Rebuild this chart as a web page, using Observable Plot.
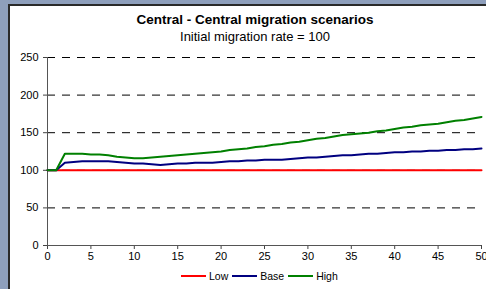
<!DOCTYPE html>
<html><head><meta charset="utf-8">
<script src="https://cdn.jsdelivr.net/npm/d3@7"></script>
<script src="https://cdn.jsdelivr.net/npm/@observablehq/plot@0.6"></script>
<style>
html,body{margin:0;padding:0;width:486px;height:289px;overflow:hidden;background:#8e9fbc;font-family:"Liberation Sans",Arial,sans-serif;}
#panel{position:absolute;left:8px;top:4px;width:600px;height:400px;background:#fff;border-top:2px solid #2a2a2a;border-left:2px solid #2a2a2a;}
#title{position:absolute;left:0;width:510px;top:12px;text-align:center;font-weight:bold;font-size:13.5px;color:#000;}
#subtitle{position:absolute;left:0;width:510px;top:29px;text-align:center;font-size:13px;color:#000;}
#chart{position:absolute;left:0;top:0;}
#legend{position:absolute;left:181px;top:270px;font-size:10.5px;color:#000;display:flex;align-items:center;white-space:nowrap;}
#legend .sw{display:inline-block;width:25px;height:2px;margin-right:3px;}
#legend .it{display:flex;align-items:center;margin-right:4px;}
</style></head>
<body>
<div id="panel"></div>
<div id="title">Central - Central migration scenarios</div>
<div id="subtitle">Initial migration rate = 100</div>
<div id="chart"></div>
<div id="legend"></div>
<script>
const years = d3.range(0, 51);
const seriesNames = ["Low", "Base", "High"];
const seriesColors = ["#ff0000", "#000080", "#008000"];
const low = years.map(() => 100);
const base = [100,100,110,111,112,112,112,112,111,110,109,109,108,107,108,109,109,110,110,110,111,112,112,113,113,114,114,114,115,116,117,117,118,119,120,120,121,122,122,123,124,124,125,125,126,126,127,127,128,128,129];
const high = [100,100,122,122,122,121,121,120,118,117,116,116,117,118,119,120,121,122,123,124,125,127,128,129,131,132,134,135,137,138,140,142,143,145,147,148,149,150,152,153,155,157,158,160,161,162,164,166,167,169,171];
const xTicks = d3.range(0, 51, 5);
const yTicks = [0, 50, 100, 150, 200, 250];
const gridValues = [50, 100, 150, 200, 250];

const values = [low, base, high];
const rows = [];
seriesNames.forEach((s, i) => years.forEach((y, j) => rows.push({series: s, year: y, value: values[i][j]})));

const chart = Plot.plot({
  width: 486,
  height: 262,
  marginLeft: 47,
  marginRight: 5,
  marginTop: 57,
  marginBottom: 17,
  style: {background: "transparent", fontFamily: "'Liberation Sans', Arial, sans-serif", fontSize: "11px", color: "#000"},
  x: {domain: [0, 50], label: null},
  y: {domain: [0, 250], label: null},
  color: {domain: seriesNames, range: seriesColors},
  marks: [
    Plot.ruleY(gridValues, {stroke: "#000", strokeWidth: 1, strokeDasharray: "8,7"}),
    Plot.axisX({ticks: xTicks, tickSize: 4, tickPadding: 3, stroke: "#444", fill: "#000", fontSize: 11, label: null}),
    Plot.axisY({ticks: yTicks, tickSize: 4, tickPadding: 5, stroke: "#444", fill: "#000", fontSize: 11, label: null}),
    Plot.ruleX([0], {stroke: "#555", strokeWidth: 1}),
    Plot.ruleY([0], {stroke: "#555", strokeWidth: 1}),
    Plot.line(rows, {x: "year", y: "value", z: "series", stroke: "series", strokeWidth: 2})
  ]
});
document.getElementById("chart").appendChild(chart);

const lg = document.getElementById("legend");
seriesNames.forEach((s, i) => {
  const it = document.createElement("span"); it.className = "it";
  const sw = document.createElement("span"); sw.className = "sw"; sw.style.background = seriesColors[i];
  it.appendChild(sw); it.appendChild(document.createTextNode(s));
  lg.appendChild(it);
});
</script>
</body></html>
